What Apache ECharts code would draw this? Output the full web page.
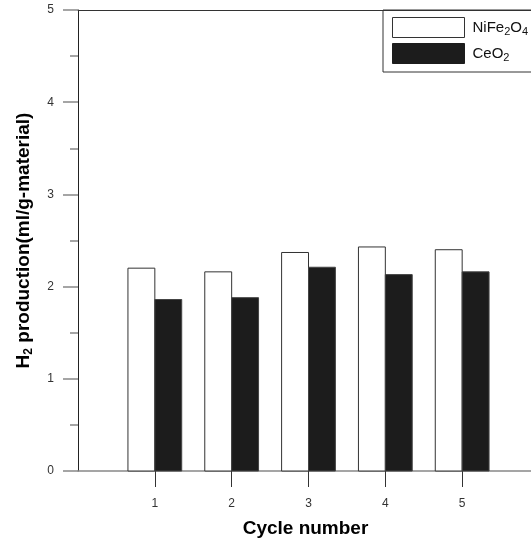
<!DOCTYPE html>
<html><head><meta charset="utf-8">
<script src="https://cdn.jsdelivr.net/npm/echarts@6/dist/echarts.min.js"></script>
<style>html,body{margin:0;padding:0;background:#fff}#c{width:531px;height:541px}</style>
</head><body><div id="c"></div>
<script>
const cycles = [1, 2, 3, 4, 5];
const nife2o4 = [2.20, 2.16, 2.37, 2.43, 2.40];
const ceo2 = [1.86, 1.88, 2.21, 2.13, 2.16];
const yTicks = [0, 1, 2, 3, 4, 5];
const xTickLabels = ['1', '2', '3', '4', '5'];

const BAR_W = 0.35;
const FONT = '"Liberation Sans", Arial, sans-serif';

function makeRender(side, fill, stroke) {
  return function (params, api) {
    const x = api.value(0), y = api.value(1);
    const xa = side < 0 ? x - BAR_W : x;
    const xb = side < 0 ? x : x + BAR_W;
    const p0 = api.coord([xa, y]);
    const p1 = api.coord([xb, 0]);
    return {
      type: 'rect',
      shape: { x: p0[0], y: p0[1], width: p1[0] - p0[0], height: p1[1] - p0[1] },
      style: { fill: fill, stroke: stroke, lineWidth: 1 }
    };
  };
}

const chart = echarts.init(document.getElementById('c'), null, { renderer: 'canvas' });
chart.setOption({
  animation: false,
  backgroundColor: '#fff',
  textStyle: { fontFamily: FONT },
  grid: { left: 78, top: 10, width: 461, height: 461, outerBoundsMode: 'none', containLabel: false },
  legend: {
    orient: 'vertical',
    left: 383, top: 10,
    padding: [7, 20, 8, 9],
    itemGap: 5,
    itemWidth: 72, itemHeight: 20,
    borderColor: '#333', borderWidth: 1,
    icon: 'rect',
    data: [
      { name: 'NiFe₂O₄', itemStyle: { color: '#fff', borderColor: '#333', borderWidth: 1 } },
      { name: 'CeO₂', itemStyle: { color: '#1c1c1c', borderColor: '#1c1c1c', borderWidth: 1 } }
    ],
    formatter: function (n) {
      return n === 'NiFe₂O₄' ? '{n|NiFe}{s|2}{n|O}{s|4}' : '{n|CeO}{s|2}';
    },
    textStyle: {
      padding: [0, 0, 0, 3],
      rich: {
        n: { fontSize: 15, color: '#111', fontFamily: FONT, lineHeight: 20 },
        s: { fontSize: 11, color: '#111', fontFamily: FONT, verticalAlign: 'bottom', lineHeight: 8 }
      }
    }
  },
  xAxis: [{
    type: 'value', min: 0, max: 6, interval: 1,
    name: 'Cycle number', nameLocation: 'middle', nameGap: 48,
    nameTextStyle: { fontSize: 19, fontWeight: 'bold', color: '#000', fontFamily: FONT, padding: [0, 6, 0, 0] },
    axisLine: { show: true, lineStyle: { color: '#888', width: 1.5 } },
    axisTick: { show: true, inside: false, length: 16, customValues: cycles, lineStyle: { color: '#333' } },
    axisLabel: { customValues: cycles, margin: 27, fontSize: 12, color: '#333', fontFamily: FONT,
      formatter: function (v) { return xTickLabels[cycles.indexOf(v)]; } },
    splitLine: { show: false }
  }, {
    type: 'value', min: 0, max: 6, position: 'top',
    axisLine: { show: true, onZero: false, lineStyle: { color: '#333', width: 1 } },
    axisTick: { show: false }, axisLabel: { show: false }, splitLine: { show: false }
  }],
  yAxis: {
    type: 'value', min: 0, max: 5, interval: 1,
    name: '{b|H}{s|2}{b| production(ml/g-material)}',
    nameLocation: 'middle', nameGap: 43, nameRotate: 90,
    nameTextStyle: {
      rich: {
        b: { fontSize: 19, fontWeight: 'bold', color: '#000', fontFamily: FONT, lineHeight: 22 },
        s: { fontSize: 12, fontWeight: 'bold', color: '#000', fontFamily: FONT, verticalAlign: 'bottom', lineHeight: 7 }
      }
    },
    axisLine: { show: true, lineStyle: { color: '#222', width: 1 } },
    axisTick: { show: true, inside: false, length: 15, lineStyle: { color: '#888', width: 1.5 } },
    minorTick: { show: true, splitNumber: 2, length: 8, lineStyle: { color: '#888', width: 1.5 } },
    axisLabel: { margin: 24, fontSize: 12, color: '#333', fontFamily: FONT,
      customValues: yTicks, formatter: function (v) { return String(v); } },
    splitLine: { show: false }
  },
  series: [{
    name: 'NiFe₂O₄', type: 'custom',
    itemStyle: { color: '#fff', borderColor: '#333', borderWidth: 1 },
    renderItem: makeRender(-1, '#fff', '#333'),
    encode: { x: 0, y: 1 },
    data: cycles.map((c, i) => [c, nife2o4[i]])
  }, {
    name: 'CeO₂', type: 'custom',
    itemStyle: { color: '#1c1c1c' },
    renderItem: makeRender(1, '#1c1c1c', '#444'),
    encode: { x: 0, y: 1 },
    data: cycles.map((c, i) => [c, ceo2[i]])
  }]
});
</script>
</body></html>
